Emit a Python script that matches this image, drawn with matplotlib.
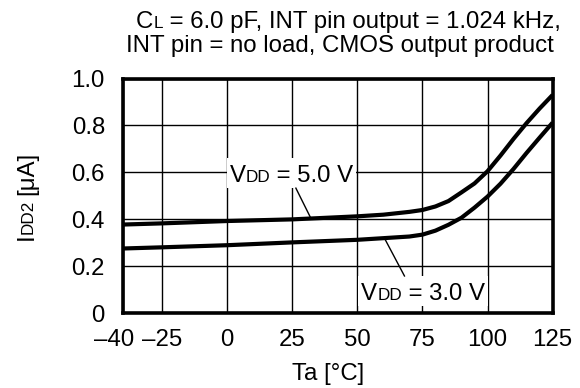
import numpy as np
import matplotlib
matplotlib.use("Agg")
import matplotlib.pyplot as plt
from matplotlib.patches import Rectangle
from matplotlib.transforms import IdentityTransform, ScaledTranslation

FONT = "Liberation Sans"
FS = 17.3     # normal text
FS_SUB = 12.3  # small letters (C_L, V_DD, I_DD2)

# data
temp = [-40, -25, 0, 25, 50, 60, 70, 75, 80, 85, 90, 95, 100, 105, 110, 115, 120, 125]
idd_5v = [0.378, 0.383, 0.393, 0.400, 0.413, 0.420, 0.432, 0.440, 0.455, 0.478,
          0.515, 0.553, 0.605, 0.672, 0.743, 0.810, 0.872, 0.930]
idd_3v = [0.276, 0.281, 0.290, 0.302, 0.313, 0.320, 0.327, 0.335, 0.352, 0.377,
          0.407, 0.450, 0.497, 0.552, 0.615, 0.683, 0.748, 0.812]

x_ticks = [-40, -25, 0, 25, 50, 75, 100, 125]
x_ticklabels = ["\u201340", "\u201325", "0", "25", "50", "75", "100", "125"]
y_ticks = [0, 0.2, 0.4, 0.6, 0.8, 1.0]
y_ticklabels = ["0", "0.2", "0.4", "0.6", "0.8", "1.0"]

fig = plt.figure(figsize=(5.8, 3.88), dpi=100)
ax = fig.add_axes([123 / 580, 74.7 / 388, (552.6 - 123) / 580, (309.5 - 74.7) / 388])
renderer = fig.canvas.get_renderer()


def advance(s, size):
    # width of s in pixels, spaces included
    a = fig.text(0, 0, "|" + s + "|", fontsize=size, family=FONT)
    b = fig.text(0, 0, "||", fontsize=size, family=FONT)
    w = a.get_window_extent(renderer).width - b.get_window_extent(renderer).width
    a.remove()
    b.remove()
    return w


def draw_pieces(host, x, y, pieces, vertical=False, zorder=5):
    # x, y in pixels; text centred on x (or y when vertical), baseline on y (or x)
    widths = [advance(s, size) for s, size in pieces]
    pos = -sum(widths) / 2
    for (s, size), w in zip(pieces, widths):
        xy = (x, y + pos) if vertical else (x + pos, y)
        if s.strip():
            host.text(xy[0], xy[1], s, fontsize=size, family=FONT, ha="left", va="baseline",
                      rotation=90 if vertical else 0, rotation_mode="anchor",
                      transform=IdentityTransform(), zorder=zorder)
        pos += w
    return sum(widths)


ax.set_xlim(-40, 125)
ax.set_ylim(0, 1.0)
ax.set_xticks(x_ticks)
ax.set_xticklabels(x_ticklabels, fontsize=FS, family=FONT)
ax.set_yticks(y_ticks)
ax.set_yticklabels(y_ticklabels, fontsize=FS, family=FONT)
ax.tick_params(axis="both", length=0)
ax.tick_params(axis="x", pad=11)
ax.tick_params(axis="y", pad=13)
ax.grid(True, color="black", lw=1.0)
ax.set_axisbelow(True)
for sp in ax.spines.values():
    sp.set_linewidth(2.6)
    sp.set_zorder(6)

# first x label sits a bit to the left so it does not touch -25
ax.get_xticklabels()[0].set_transform(
    ax.get_xticklabels()[0].get_transform() + ScaledTranslation(-9 / 100, 0, fig.dpi_scale_trans))

ax.plot(temp, idd_5v, color="black", lw=3.0, zorder=3, solid_capstyle="butt")
ax.plot(temp, idd_3v, color="black", lw=3.0, zorder=3, solid_capstyle="butt")

# curve labels: (centre x, centre y) in data, leader from label box to curve
labels = [
    ([("V", FS), ("DD", FS_SUB), (" = 5.0 V", FS)], 24.7, 0.597, (26.4, 0.533), 32.2, idd_5v),
    ([("V", FS), ("DD", FS_SUB), (" = 3.0 V", FS)], 75.3, 0.095, (68.1, 0.159), 60.4, idd_3v),
]
cap = 0.716 * FS * 100 / 72
for pieces, lx, ly, start, cx, curve in labels:
    px, py = ax.transData.transform((lx, ly))
    w = draw_pieces(ax, px, py - cap / 2, pieces, zorder=5)
    (x0, y0) = ax.transData.inverted().transform((px - w / 2 - 3, py - 15))
    (x1, y1) = ax.transData.inverted().transform((px + w / 2 + 3, py + 15))
    ax.add_patch(Rectangle((x0, y0), x1 - x0, y1 - y0, facecolor="white", edgecolor="none", zorder=2))
    ax.plot([start[0], cx], [start[1], np.interp(cx, temp, curve)], color="black", lw=1.0, zorder=3)

# title, two lines
draw_pieces(fig, 348.5, 359.7, [("C", FS), ("L", FS_SUB), (" = 6.0 pF, INT pin output = 1.024 kHz,", FS)])
draw_pieces(fig, 339.7, 336.3, [("INT pin = no load, CMOS output product", FS)])

# axis labels
draw_pieces(fig, 328, 8, [("Ta [\u00b0C]", FS)])
draw_pieces(fig, 33, 192, [("I", FS), ("DD2", FS_SUB), (" ", FS_SUB), ("[\u03bcA]", FS)], vertical=True)

fig.savefig("out.png", dpi=100)
